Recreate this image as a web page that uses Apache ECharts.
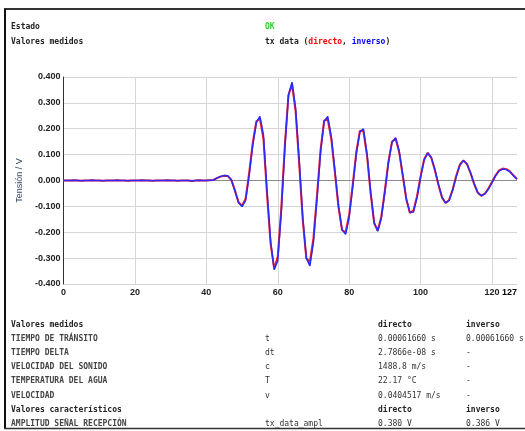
<!DOCTYPE html>
<html><head><meta charset="utf-8">
<script src="https://cdn.jsdelivr.net/npm/echarts@6/dist/echarts.min.js"></script>
<style>html,body{margin:0;padding:0;background:#fff}#c{width:525px;height:431px}</style>
</head><body><div id="c"></div>
<script>
// sample index 0..127
var directo = [
0.000,0.000,0.000,0.001,0.000,-0.001,0.000,0.000,0.001,0.000,
0.000,-0.001,0.000,0.000,0.000,0.001,0.000,0.000,-0.001,0.000,
0.000,0.000,0.001,0.000,0.000,-0.001,0.000,0.000,0.000,0.001,
0.000,0.000,-0.001,0.000,0.000,0.000,-0.002,0.000,0.001,0.000,
0.000,0.001,0.002,0.009,0.015,0.018,0.017,0.003,-0.038,-0.083,
-0.098,-0.070,0.030,0.145,0.228,0.240,0.160,-0.055,-0.245,-0.340,
-0.295,-0.105,0.140,0.330,0.372,0.268,0.065,-0.152,-0.300,-0.315,
-0.222,-0.055,0.120,0.232,0.235,0.160,0.030,-0.102,-0.192,-0.200,
-0.132,-0.015,0.110,0.192,0.190,0.096,-0.048,-0.165,-0.193,-0.140,
-0.038,0.074,0.150,0.162,0.110,0.019,-0.073,-0.125,-0.116,-0.061,
0.016,0.082,0.107,0.088,0.040,-0.017,-0.066,-0.087,-0.075,-0.034,
0.019,0.061,0.078,0.063,0.028,-0.014,-0.047,-0.059,-0.051,-0.031,
-0.006,0.020,0.039,0.046,0.044,0.035,0.020,0.006
];
var inverso = [
0.000,0.000,0.000,0.001,0.000,-0.001,0.000,0.000,0.001,0.000,
0.000,-0.001,0.000,0.000,0.000,0.001,0.000,0.000,-0.001,0.000,
0.000,0.000,0.001,0.000,0.000,-0.001,0.000,0.000,0.000,0.001,
0.000,0.000,-0.001,0.000,0.000,0.000,-0.002,0.000,0.001,0.000,
0.000,0.001,0.002,0.010,0.016,0.019,0.018,0.002,-0.040,-0.085,
-0.101,-0.078,0.020,0.137,0.224,0.248,0.175,-0.040,-0.234,-0.345,
-0.310,-0.121,0.127,0.330,0.380,0.279,0.080,-0.141,-0.300,-0.330,
-0.238,-0.070,0.110,0.229,0.248,0.170,0.041,-0.095,-0.189,-0.208,
-0.142,-0.024,0.103,0.188,0.200,0.103,-0.041,-0.162,-0.196,-0.146,
-0.045,0.068,0.148,0.165,0.114,0.024,-0.069,-0.124,-0.122,-0.066,
0.012,0.080,0.106,0.089,0.043,-0.014,-0.064,-0.087,-0.077,-0.037,
0.016,0.060,0.077,0.064,0.030,-0.012,-0.046,-0.059,-0.052,-0.033,
-0.008,0.018,0.037,0.044,0.042,0.034,0.018,0.005
];
var xTicks = [0, 20, 40, 60, 80, 100, 120, 127];
var yTicks = [-0.4, -0.3, -0.2, -0.1, 0, 0.1, 0.2, 0.3, 0.4];

var tableRows = [
  ['TIEMPO DE TRÁNSITO', 't', '0.00061660 s', '0.00061660 s'],
  ['TIEMPO DELTA', 'dt', '2.7866e-08 s', '-'],
  ['VELOCIDAD DEL SONIDO', 'c', '1488.8 m/s', '-'],
  ['TEMPERATURA DEL AGUA', 'T', '22.17 °C', '-'],
  ['VELOCIDAD', 'v', '0.0404517 m/s', '-']
];
var charRows = [
  ['AMPLITUD SEÑAL RECEPCIÓN', 'tx_data_ampl', '0.380 V', '0.386 V']
];

function pairs(arr){ return arr.map(function(v,i){ return [i, v]; }); }

var mono = '"DejaVu Sans Mono", "Liberation Mono", monospace';
var g = [];
function txt(x, y, s, opt){
  opt = opt || {};
  g.push({type:'text', left:x, top:y - 5, silent:true, style:{
    text:s, fill:opt.color || '#222', font:(opt.bold ? 'bold ' : '') + (opt.size || 8) + 'px ' + mono
  }});
}
// frame
g.push({type:'line', shape:{x1:4, y1:9, x2:525, y2:9}, style:{stroke:'#333', lineWidth:2}, silent:true});
g.push({type:'line', shape:{x1:5, y1:9, x2:5, y2:429}, style:{stroke:'#111', lineWidth:2}, silent:true});
g.push({type:'line', shape:{x1:4, y1:428.5, x2:525, y2:428.5}, style:{stroke:'#333', lineWidth:1.5}, silent:true});

txt(11, 28, 'Estado', {bold:true});
txt(265, 28, 'OK', {bold:true, color:'#33cc33'});
txt(11, 43, 'Valores medidos', {bold:true});
g.push({type:'text', left:265, top:38, silent:true, style:{
  text:'tx data ({r|directo}, {b|inverso})', fill:'#222', font:'bold 8px ' + mono,
  rich:{r:{fill:'#ff0000', font:'bold 8px ' + mono}, b:{fill:'#0000ff', font:'bold 8px ' + mono}}
}});

var y0 = 326, dy = 14.1;
txt(11, y0, 'Valores medidos', {bold:true});
txt(378, y0, 'directo', {bold:true});
txt(466, y0, 'inverso', {bold:true});
tableRows.forEach(function(r, k){
  var y = y0 + dy * (k + 1);
  txt(11, y, r[0], {size:8, bold:true, color:'#444'});
  txt(265, y, r[1], {color:'#333'});
  txt(378, y, r[2], {color:'#333'});
  txt(466, y, r[3], {color:'#333'});
});
var y1 = y0 + dy * 6;
txt(11, y1, 'Valores característicos', {bold:true});
txt(378, y1, 'directo', {bold:true});
txt(466, y1, 'inverso', {bold:true});
charRows.forEach(function(r, k){
  var y = y1 + dy * (k + 1);
  txt(11, y, r[0], {size:8, bold:true, color:'#444'});
  txt(265, y, r[1], {color:'#333'});
  txt(378, y, r[2], {color:'#333'});
  txt(466, y, r[3], {color:'#333'});
});

var chart = echarts.init(document.getElementById('c'), null, {renderer:'canvas'});
var lblFont = {fontFamily:'"Liberation Sans", Arial, sans-serif', fontSize:9, fontWeight:'bold', color:'#222'};
chart.setOption({
  animation:false,
  backgroundColor:'#fff',
  grid:{left:63.5, right:8, top:77, bottom:147, containLabel:false},
  xAxis:{
    type:'value', min:xTicks[0], max:xTicks[xTicks.length-1], interval:20,
    axisLine:{show:false}, axisTick:{show:false},
    splitLine:{show:true, showMaxLine:false, lineStyle:{color:'#d6d6d6', width:1}},
    axisLabel:Object.assign({}, lblFont, {margin:4, alignMaxLabel:'right',
      formatter:function(v){ return v === 127 ? '{m|127}' : String(v); },
      rich:{m:{fontFamily:'"Liberation Sans", Arial, sans-serif', fontSize:9, fontWeight:'bold', color:'#000'}}})
  },
  yAxis:{
    type:'value', min:yTicks[0], max:yTicks[yTicks.length-1], interval:0.1,
    name:'Tensión / V', nameLocation:'middle', nameGap:38, nameRotate:90,
    nameTextStyle:{fontFamily:'"Liberation Sans", Arial, sans-serif', fontSize:9, color:'#3a4a66'},
    axisLine:{show:true, lineStyle:{color:'#333', width:1}},
    axisTick:{show:false},
    splitLine:{show:true, lineStyle:{color:'#d6d6d6', width:1}},
    axisLabel:Object.assign({}, lblFont, {margin:3, formatter:function(v){ return v.toFixed(3); }})
  },
  graphic:g,
  series:[
    {name:'zero', type:'line', data:[], z:1, silent:true,
     markLine:{z:1, zlevel:0, silent:true, symbol:'none', label:{show:false}, animation:false,
       lineStyle:{color:'#8a8a8a', width:1, type:'solid'}, data:[{yAxis:0}]}},
    {name:'directo', type:'line', data:pairs(directo), showSymbol:false, symbol:'none',
     lineStyle:{color:'#ff1a1a', width:2}, z:6},
    {name:'inverso', type:'line', data:pairs(inverso), showSymbol:false, symbol:'none',
     lineStyle:{color:'#2a2aff', width:1.5}, z:7}
  ]
});
</script></body></html>
